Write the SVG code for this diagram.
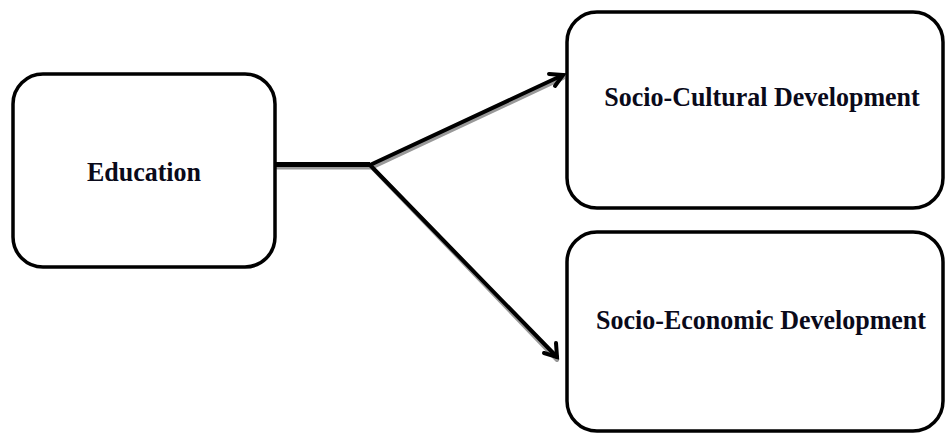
<svg xmlns="http://www.w3.org/2000/svg" width="947" height="434" viewBox="0 0 947 434">
<style>
.box{fill:#fff;stroke:#000;stroke-width:3.5}
.lbl{font-family:"Liberation Serif","Times New Roman",serif;font-weight:bold;font-size:26px;fill:#0a0a1a;text-anchor:middle}
.ln{fill:none;stroke:#000;stroke-width:4;stroke-linecap:round}
.sh{fill:none;stroke:#999;stroke-width:4;stroke-linecap:round}
</style>
<rect width="947" height="434" fill="#fff"/>
<g id="connectors">
<line class="sh" x1="277" y1="167.5" x2="372" y2="167.5"/>
<line class="sh" x1="372" y1="167.5" x2="563" y2="78"/>
<line class="sh" x1="372" y1="167.5" x2="557" y2="360"/>
<line x1="275" y1="164.5" x2="370" y2="164.5" stroke="#000" stroke-width="5"/>
<line class="ln" x1="370" y1="165" x2="563" y2="75"/>
<polyline class="ln" points="549,74 563,75 555,86"/>
<line class="ln" x1="370" y1="165" x2="557" y2="357"/>
<polyline class="ln" points="544,353 557,357 556,343"/>
</g>
<g id="education">
<rect class="box" x="13" y="74" width="262" height="193" rx="30"/>
<text class="lbl" transform="translate(144,181) scale(1,1.08)">Education</text>
</g>
<g id="socio-cultural">
<rect class="box" x="567" y="12" width="376" height="196" rx="30"/>
<text class="lbl" transform="translate(762,106) scale(1,1.08)">Socio-Cultural Development</text>
</g>
<g id="socio-economic">
<rect class="box" x="567" y="232" width="376" height="199" rx="30"/>
<text class="lbl" transform="translate(761,329) scale(1,1.08)">Socio-Economic Development</text>
</g>
</svg>
